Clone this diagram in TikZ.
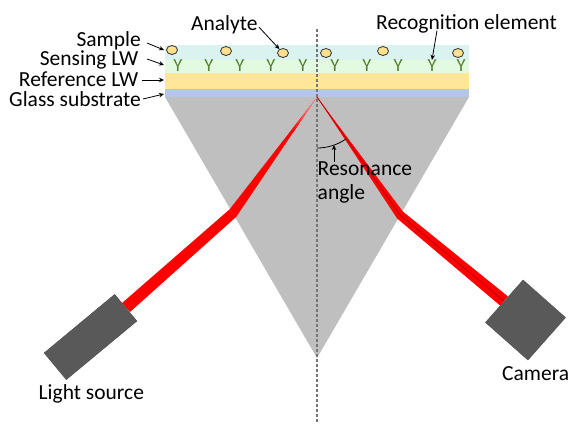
\documentclass[tikz,border=0pt]{standalone}
\usepackage{fontspec}
\setmainfont{Carlito}
\usepackage{tikz}
\usetikzlibrary{arrows.meta,calc,shapes.geometric}
\definecolor{samplecol}{RGB}{218,242,240}
\definecolor{sensecol}{RGB}{226,250,224}
\definecolor{refcol}{RGB}{255,230,153}
\definecolor{glasscol}{RGB}{180,199,231}
\definecolor{prismgray}{RGB}{191,191,191}
\definecolor{boxgray}{RGB}{89,89,89}
\definecolor{abgreen}{RGB}{84,130,53}
\definecolor{analytefill}{RGB}{255,224,140}
\definecolor{beamred}{RGB}{255,0,0}
\definecolor{beamdark}{RGB}{192,0,0}
\definecolor{normgray}{RGB}{118,118,118}
\tikzset{
  lbl/.style={font=\fontsize{21.5}{24}\selectfont, inner sep=0pt},
  larr/.style={-{Stealth[length=5pt,width=4.5pt]}, line width=0.8pt},
  analyte/.style={ellipse, draw=black!80, line width=0.8pt, fill=analytefill,
      minimum width=11pt, minimum height=9pt, inner sep=0pt},
  antibody/.style={font=\fontsize{18.5}{18.5}\selectfont, text=abgreen, inner sep=0pt},
  beam/.style={fill=beamred},
  devbox/.style={fill=boxgray, inner sep=0pt},
  normal/.style={normgray, line width=1.3pt, dash pattern=on 3pt off 2pt},
}

\begin{document}
\begin{tikzpicture}[x=1pt,y=-1pt]
\useasboundingbox (0,0) rectangle (569,423);
% sensor stack
\fill[samplecol] (165,45) rectangle (469,60);
\fill[sensecol] (165,60) rectangle (469,73);
\fill[refcol] (165,73) rectangle (469,89);
\fill[glasscol] (165,89) rectangle (469,97);
% prism
\fill[prismgray] (165,97) -- (469,97) -- (317,358) -- cycle;
\coordinate (refl) at (317,97);
\coordinate (kL) at (233,213);
\coordinate (kR) at (400,215);
\coordinate (psample) at (164,50);
\coordinate (psensing) at (164,65);
\coordinate (pref) at (164,80);
\coordinate (pglass) at (164,94);

\foreach \x/\y [count=\i] in {172/50,226/51,283/53,326/53,383/51,458/53}
  \node[analyte] (a\i) at (\x,\y) {};
\foreach \x [count=\i] in {178,209,240,271,303,335,367,398,432,461}
  \node[antibody] (y\i) at (\x,66) {Y};

% source and camera
\node[devbox, minimum width=92pt, minimum height=35pt, rotate=39.7] (src) at (90.5,337) {};
\node[devbox, minimum size=57pt, rotate=-41.5] (cam) at (525.5,320) {};

% incoming beam, pale where it meets the surface
\coordinate (kLa) at ($(kL)!5pt!-90:(src.east)$);
\coordinate (kLb) at ($(kL)!5pt!90:(src.east)$);
\fill[beam] ($(src.east)!6pt!90:(kL)$) -- (kLa) -- (kLb)
  -- ($(src.east)!6pt!-90:(kL)$) -- cycle;
\fill[beam] (kLa) -- (refl) -- (kLb) -- cycle;
\shade[top color=beamred!30, bottom color=beamred]
  ($(refl)!0.28!(kLa)$) -- (refl) -- ($(refl)!0.28!(kLb)$) -- cycle;
% reflected beam
\fill[beam] (refl) -- ($(kR)!4.5pt!90:(cam.west)$) -- ($(cam.west)!6pt!-90:(kR)$)
  -- ($(cam.west)!6pt!90:(kR)$) -- ($(kR)!4.5pt!-90:(cam.west)$) -- cycle;
\draw[beamdark, line width=0.8pt] (refl) -- (kR) -- (cam.west);
\node[devbox, minimum width=92pt, minimum height=35pt, rotate=39.7] at (src) {};
\node[devbox, minimum size=57pt, rotate=-41.5] at (cam) {};

% surface normal and angle
\coordinate (ntop) at (317,29);
\coordinate (nbot) at (317,423);
\draw[normal] (ntop) -- (nbot);
\draw[line width=0.8pt] ($(refl)+(90:51)$) arc[start angle=90, end angle=56, radius=51];
\coordinate (arcpt) at ($(refl)+(70.5:51)$);

% labels
\node[lbl, anchor=base east] (lsample) at (141,46) {Sample};
\node[lbl, anchor=base east] (lsensing) at (138.5,65.5) {Sensing LW};
\node[lbl, anchor=base east] (lref) at (138.5,86.5) {Reference LW};
\node[lbl, anchor=base east] (lglass) at (141,106) {Glass substrate};
\node[lbl, anchor=base west] (lanalyte) at (191,30) {Analyte};
\node[lbl, anchor=base west] (lrecog) at (376,29.5) {Recognition element};
\node[lbl, anchor=base west] (lsource) at (38.5,399) {Light source};
\node[lbl, anchor=base west] (lcamera) at (502,380) {Camera};
\node[lbl, anchor=north west, align=left] (langle) at (317.5,162) {Resonance\\angle};

\draw[larr] ($(lsample.base east)+(6,-3)$) -- (psample);
\draw[larr] ($(lsensing.base east)+(8.5,-6.5)$) -- (psensing);
\draw[larr] ($(lref.base east)+(3.5,-6.5)$) -- (pref);
\draw[larr] ($(lglass.base east)+(2,-7)$) -- (pglass);
\draw[larr] ($(lanalyte.base east)+(1,-3)$) -- (a3);
\draw[larr] ($(lrecog.base west)+(61,1)$) -- (y9.north);
\draw[larr] (langle.north west -| arcpt) -- (arcpt);
\end{tikzpicture}
\end{document}
